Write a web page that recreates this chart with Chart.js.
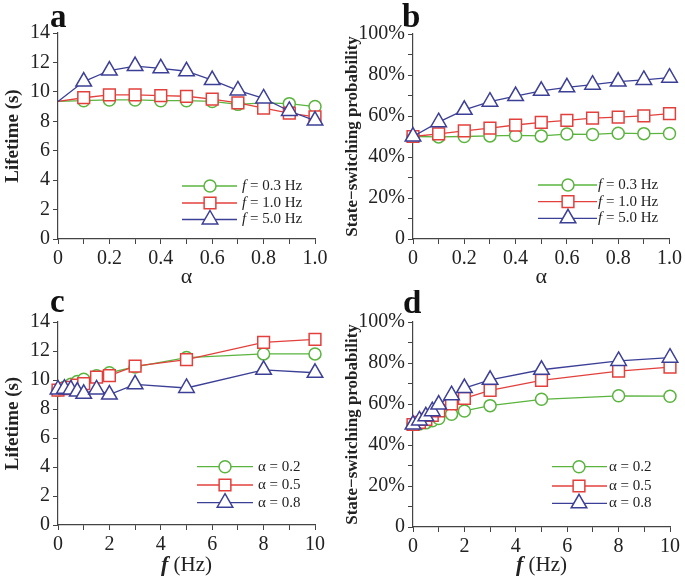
<!DOCTYPE html>
<html>
<head>
<meta charset="utf-8">
<script src="https://cdn.jsdelivr.net/npm/chart.js@4.4.1/dist/chart.umd.min.js"></script>
<style>
  body { margin: 0; background: #fff; }
  #wrap { position: relative; width: 685px; height: 581px; }
  .panel { position: absolute; }
</style>
</head>
<body>
<div id="wrap">
  <div class="panel" style="left:0;top:0"><canvas id="chartA" width="342" height="290"></canvas></div>
  <div class="panel" style="left:342px;top:0"><canvas id="chartB" width="343" height="290"></canvas></div>
  <div class="panel" style="left:0;top:290px"><canvas id="chartC" width="342" height="291"></canvas></div>
  <div class="panel" style="left:342px;top:290px"><canvas id="chartD" width="343" height="291"></canvas></div>
</div>
<script>
// --- Data ---
const alphaValues = [0, 0.1, 0.2, 0.3, 0.4, 0.5, 0.6, 0.7, 0.8, 0.9, 1.0];
const freqValues = [0, 0.25, 0.5, 0.75, 1, 1.5, 2, 3, 5, 8, 10];

const freqLabels = ['f = 0.3 Hz', 'f = 1.0 Hz', 'f = 5.0 Hz'];
const alphaLabels = ['\u03b1 = 0.2', '\u03b1 = 0.5', '\u03b1 = 0.8'];

// panel a: lifetime vs alpha
const lifeF03 = [9.35, 9.4, 9.45, 9.45, 9.4, 9.4, 9.35, 9.15, 9.25, 9.2, 9.0];
const lifeF10 = [9.35, 9.6, 9.8, 9.8, 9.75, 9.7, 9.5, 9.25, 8.9, 8.55, 8.3];
const lifeF50 = [9.35, 10.7, 11.45, 11.75, 11.6, 11.4, 10.8, 10.1, 9.55, 8.7, 8.05];

// panel b: state-switching probability (%) vs alpha
const probF03 = [50, 49.8, 50, 50.3, 50.5, 50.3, 51.2, 51, 51.6, 51.4, 51.5];
const probF10 = [50, 51.3, 52.7, 54.1, 55.6, 56.9, 57.9, 59, 59.5, 60.1, 61.2];
const probF50 = [50, 57, 63, 67, 69.7, 72.3, 74, 75.3, 76.8, 77.6, 78.7];

// panel c: lifetime vs frequency
const lifeA02 = [9.3, 9.5, 9.7, 9.9, 10.05, 10.3, 10.5, 10.9, 11.55, 11.8, 11.8];
const lifeA05 = [9.3, 9.4, 9.5, 9.65, 9.75, 10.2, 10.3, 10.95, 11.4, 12.6, 12.8];
const lifeA08 = [9.35, 9.4, 9.35, 9.2, 9.05, 9.35, 9.0, 9.7, 9.45, 10.7, 10.5];

// panel d: state-switching probability (%) vs frequency
const probA02 = [50, 50.2, 50.8, 51.8, 52.9, 55, 56.6, 59.2, 62.3, 64, 63.8];
const probA05 = [50, 51, 52.5, 54.5, 56.6, 60, 62.8, 66.7, 71.5, 76, 78];
const probA08 = [50, 52, 54, 56.5, 59.7, 64.3, 67.8, 71.8, 76.7, 81, 82.6];

// --- Styling ---
const SERIF = '"Liberation Serif", "Times New Roman", serif';
const GREEN = '#5ab43e';
const RED = '#e2403c';
const BLUE = '#3c3f96';
const AXIS = '#444';
const TEXT = '#222';

// blue drawn on top, green at the bottom (lower order = drawn last)
const seriesStyles = [
    { color: GREEN, pointStyle: 'circle', radius: 6, order: 2 },
    { color: RED, pointStyle: 'rect', radius: 8.3, order: 1 },
    { color: BLUE, pointStyle: 'triangle', radius: 9, order: 0 }
];

function drawMarker(ctx, style, x, y) {
    const r = style.radius;
    ctx.save();
    ctx.fillStyle = '#fff';
    ctx.strokeStyle = style.color;
    ctx.lineWidth = 1.5;
    ctx.beginPath();
    if (style.pointStyle === 'circle') {
        ctx.arc(x, y, r, 0, Math.PI * 2);
    } else if (style.pointStyle === 'rect') {
        const h = r * Math.SQRT1_2;
        ctx.rect(x - h, y - h, 2 * h, 2 * h);
    } else {
        ctx.moveTo(x, y - r);
        ctx.lineTo(x + r * 0.866, y + r * 0.5);
        ctx.lineTo(x - r * 0.866, y + r * 0.5);
        ctx.closePath();
    }
    ctx.fill();
    ctx.stroke();
    ctx.restore();
}

// legend, panel letter and mixed-style axis title drawn on the canvas
const overlayPlugin = {
    id: 'overlay',
    afterDatasetsDraw(chart, args, opts) {
        const ctx = chart.ctx;
        const lg = opts.legend;
        chart.data.datasets.forEach((ds, i) => {
            const y = lg.rows[i];
            const st = seriesStyles[i];
            ctx.save();
            ctx.strokeStyle = st.color;
            ctx.lineWidth = 1.3;
            ctx.beginPath();
            ctx.moveTo(lg.x0, y);
            ctx.lineTo(lg.x1, y);
            ctx.stroke();
            ctx.restore();
            drawMarker(ctx, st, lg.xm, y);

            ctx.save();
            ctx.fillStyle = TEXT;
            ctx.textBaseline = 'middle';
            let x = lg.xt;
            let rest = ds.label;
            if (rest.startsWith('f ')) {
                ctx.font = 'italic 15px ' + SERIF;
                ctx.fillText('f', x, y);
                x += ctx.measureText('f').width;
                rest = rest.slice(1);
            }
            ctx.font = '15px ' + SERIF;
            ctx.fillText(rest, x, y);
            ctx.restore();
        });

        ctx.save();
        ctx.fillStyle = '#111';
        ctx.textBaseline = 'alphabetic';
        ctx.font = 'bold 33px ' + SERIF;
        ctx.fillText(opts.letter.text, opts.letter.x, opts.letter.y);
        ctx.restore();

        if (opts.fTitle) {
            const area = chart.chartArea;
            const cx = (area.left + area.right) / 2;
            ctx.save();
            ctx.fillStyle = TEXT;
            ctx.textBaseline = 'alphabetic';
            ctx.font = 'bold italic 22px ' + SERIF;
            const w1 = ctx.measureText('f').width;
            ctx.font = '21px ' + SERIF;
            const w2 = ctx.measureText(' (Hz)').width;
            const start = cx - (w1 + w2) / 2;
            ctx.font = 'bold italic 22px ' + SERIF;
            ctx.fillText('f', start, opts.fTitle.y);
            ctx.font = '21px ' + SERIF;
            ctx.fillText(' (Hz)', start + w1, opts.fTitle.y);
            ctx.restore();
        }
    }
};

function makeChart(id, xs, ys, labels, cfg) {
    const datasets = ys.map((arr, i) => ({
        label: labels[i],
        data: arr.map((v, j) => ({ x: xs[j], y: v })),
        order: seriesStyles[i].order,
        borderColor: seriesStyles[i].color,
        backgroundColor: '#fff',
        borderWidth: 1.3,
        pointStyle: seriesStyles[i].pointStyle,
        pointRadius: c => (cfg.hideFirst && c.dataIndex === 0) ? 0 : seriesStyles[i].radius,
        pointBorderWidth: 1.5,
        pointBackgroundColor: '#fff',
        pointBorderColor: seriesStyles[i].color,
        tension: 0,
        clip: false
    }));

    const tickFont = { family: SERIF, size: 20 };
    const grid = { drawOnChartArea: false, drawTicks: true, tickLength: 5, color: AXIS, lineWidth: 1 };
    const border = { display: true, color: AXIS, width: 1.2 };

    return new Chart(document.getElementById(id), {
        type: 'line',
        data: { datasets },
        options: {
            responsive: false,
            animation: false,
            layout: { padding: cfg.padding },
            plugins: {
                legend: { display: false },
                tooltip: { enabled: false },
                overlay: { legend: cfg.legend, letter: cfg.letter, fTitle: cfg.fTitle }
            },
            scales: {
                x: {
                    type: 'linear',
                    min: cfg.x.min, max: cfg.x.max,
                    grid, border,
                    ticks: {
                        stepSize: cfg.x.step,
                        autoSkip: false,
                        maxRotation: 0,
                        padding: 3,
                        color: TEXT,
                        font: tickFont,
                        callback: cfg.x.label
                    },
                    title: cfg.x.title,
                    afterFit: s => { s.height = cfg.x.height; }
                },
                y: {
                    min: cfg.y.min, max: cfg.y.max,
                    grid, border,
                    ticks: {
                        stepSize: cfg.y.step,
                        autoSkip: false,
                        padding: 3,
                        color: TEXT,
                        font: tickFont,
                        callback: cfg.y.label
                    },
                    title: cfg.y.title,
                    afterFit: s => { s.width = cfg.y.width; }
                }
            }
        },
        plugins: [overlayPlugin]
    });
}

const alphaTick = (v, i) => i % 2 === 0 ? (v === 0 ? '0' : v.toFixed(1)) : '';
const freqTick = (v, i) => i % 2 === 0 ? String(Math.round(v)) : '';
const lifeTick = v => String(Math.round(v));
const pctTick = (v, i) => i % 2 === 0 ? (v === 0 ? '0' : Math.round(v) + '%') : '';

const lifeTitle = { display: true, text: 'Lifetime (s)', color: TEXT, font: { family: SERIF, size: 19, weight: 'bold' }, padding: { top: 2, bottom: 0 } };
const probTitle = { display: true, text: 'State\u2212switching probability', color: TEXT, font: { family: SERIF, size: 17, weight: 'bold' }, padding: { top: 0, bottom: 0 } };
const alphaTitle = { display: true, text: '\u03b1', color: TEXT, font: { family: SERIF, size: 22, lineHeight: 1 }, padding: { top: 0, bottom: 2 } };

makeChart('chartA', alphaValues, [lifeF03, lifeF10, lifeF50], freqLabels, {
    hideFirst: true,
    padding: { top: 33, right: 27, left: 0, bottom: 0 },
    x: { min: 0, max: 1, step: 0.1, label: alphaTick, title: alphaTitle, height: 51 },
    y: { min: 0, max: 14, step: 2, label: lifeTick, title: lifeTitle, width: 58 },
    legend: { x0: 182, x1: 237, xm: 210, xt: 242, rows: [186, 203, 219.5] },
    letter: { text: 'a', x: 50, y: 27 }
});

makeChart('chartB', alphaValues, [probF03, probF10, probF50], freqLabels, {
    padding: { top: 34, right: 15, left: 0, bottom: 0 },
    x: { min: 0, max: 1, step: 0.1, label: alphaTick, title: alphaTitle, height: 51 },
    y: { min: 0, max: 100, step: 10, label: pctTick, title: probTitle, width: 71 },
    legend: { x0: 196, x1: 255, xm: 226, xt: 256, rows: [185, 201.7, 218.3] },
    letter: { text: 'b', x: 60, y: 27 }
});

makeChart('chartC', freqValues, [lifeA02, lifeA05, lifeA08], alphaLabels, {
    padding: { top: 32, right: 27, left: 0, bottom: 0 },
    x: { min: 0, max: 10, step: 1, label: freqTick, title: { display: false }, height: 56 },
    y: { min: 0, max: 14, step: 2, label: lifeTick, title: lifeTitle, width: 58 },
    legend: { x0: 197, x1: 253, xm: 225, xt: 258, rows: [176.7, 195, 212.7] },
    letter: { text: 'c', x: 50, y: 22 },
    fTitle: { y: 281 }
});

makeChart('chartD', freqValues, [probA02, probA05, probA08], alphaLabels, {
    padding: { top: 32, right: 15, left: 0, bottom: 0 },
    x: { min: 0, max: 10, step: 1, label: freqTick, title: { display: false }, height: 54 },
    y: { min: 0, max: 100, step: 10, label: pctTick, title: probTitle, width: 71 },
    legend: { x0: 210, x1: 265, xm: 237, xt: 267, rows: [176.7, 196, 213.3] },
    letter: { text: 'd', x: 61, y: 23 },
    fTitle: { y: 281 }
});
</script>
</body>
</html>
